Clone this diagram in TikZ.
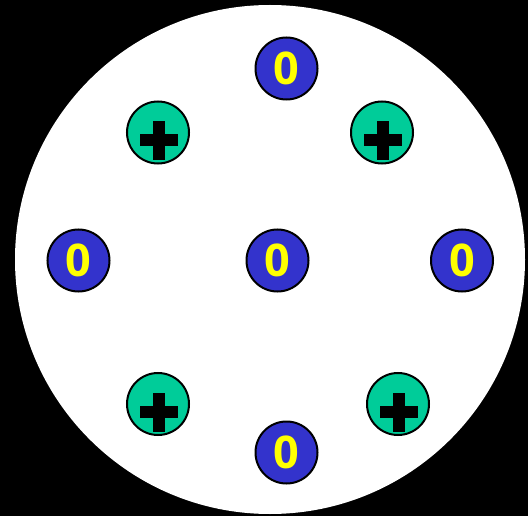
\documentclass[tikz,border=0pt]{standalone}
\usepackage{fontspec}
\setmainfont{Open Sans}
\definecolor{zblue}{HTML}{3333CC}
\definecolor{pgreen}{HTML}{00CC99}
\definecolor{digit}{HTML}{FFFF00}
\begin{document}
\begin{tikzpicture}[x=1pt,y=-1pt,
  particle/.style={circle,draw=black,line width=2pt,minimum size=62pt,inner sep=0pt},
  zero/.style={particle,fill=zblue,text=digit,
    font=\fontsize{45}{45}\selectfont\bfseries},
  plus/.style={particle,fill=pgreen,
    path picture={
      \fill[black,shift={(path picture bounding box.center)}] (-18.5,2) rectangle (19.5,14);
      \fill[black,shift={(path picture bounding box.center)}] (-5.5,-11) rectangle (6.5,28);
    }}]
\fill[black] (0,0) rectangle (528,516);
\useasboundingbox (0,0) rectangle (528,516);
\fill[white] (270,259.5) ellipse [x radius=255, y radius=254.5];
\node[zero] (ztop) at (286.5,68.5) {0};
\node[plus] (ptl) at (158,132.5) {};
\node[plus] (ptr) at (382,132.5) {};
\node[zero] (zleft) at (78.5,260.5) {0};
\node[zero] (zcenter) at (277.5,260.5) {0};
\node[zero] (zright) at (462,260.5) {0};
\node[plus] (pbl) at (158,404) {};
\node[plus] (pbr) at (398,404) {};
\node[zero] (zbottom) at (286.5,452.5) {0};
\end{tikzpicture}
\end{document}
